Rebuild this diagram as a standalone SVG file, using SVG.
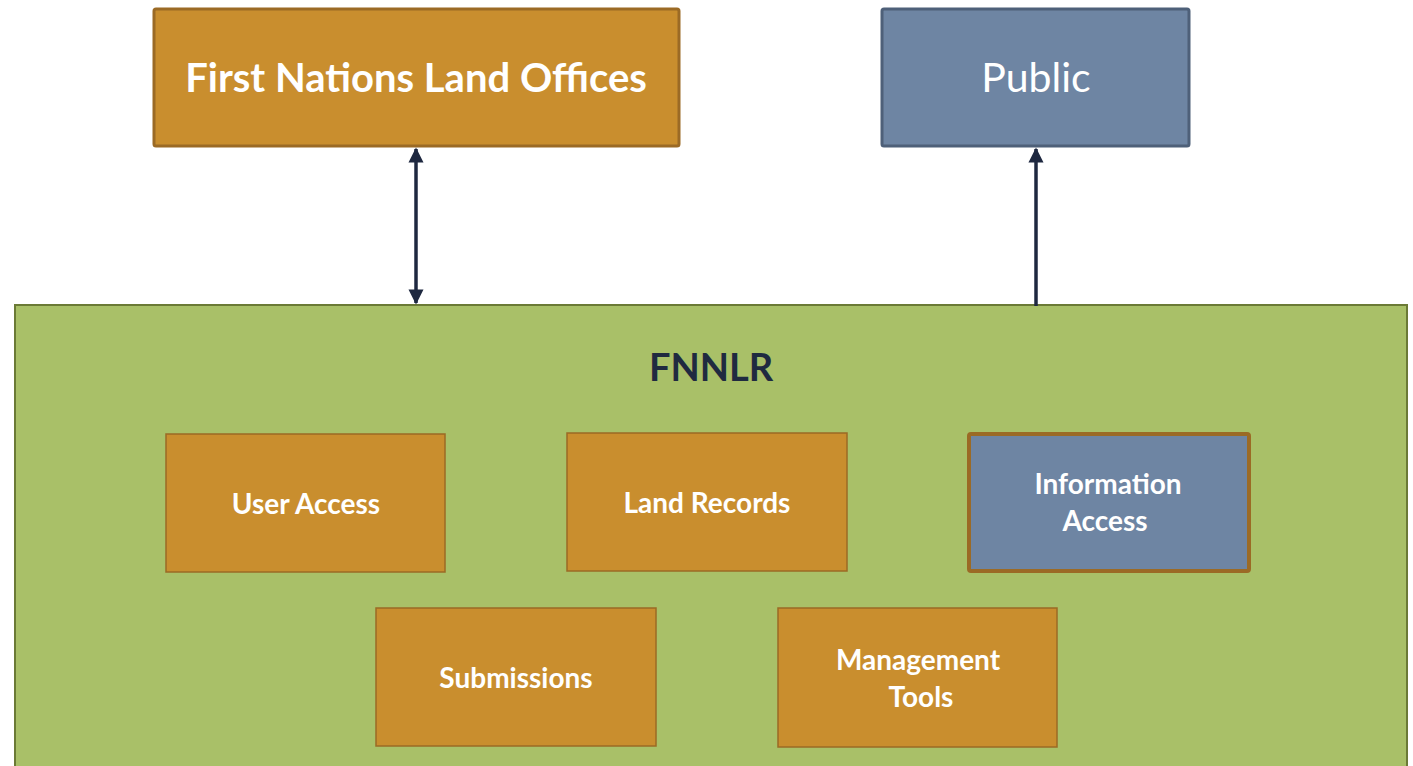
<svg xmlns="http://www.w3.org/2000/svg" width="1413" height="766" viewBox="0 0 1413 766">
<style>
.orange{fill:#c98e2e;stroke:#9b6a25;stroke-width:1.5}
.blue{fill:#6e85a3;stroke:#4e6079;stroke-width:3}
.lbl{font-family:Lato,"Open Sans",sans-serif;font-weight:bold;fill:#ffffff;text-anchor:middle}
.conn{stroke:#1e2840;stroke-width:3.5;fill:none}
</style>
<defs>
<marker id="ah" viewBox="0 0 10 10" refX="9" refY="5" markerWidth="4.3" markerHeight="4.3" orient="auto-start-reverse" markerUnits="strokeWidth">
<path d="M0,0 L10,5 L0,10 z" fill="#1e2840"/>
</marker>
</defs>
<g id="fnlo">
<rect x="154" y="9" width="525" height="137" fill="#c98e2e" stroke="#9b6a25" stroke-width="3" rx="2"/>
<text x="416" y="92" class="lbl" font-size="40">First Nations Land Offices</text>
</g>
<g id="public">
<rect x="882" y="9" width="307" height="137" class="blue" rx="2"/>
<text x="1036" y="92" font-family="Lato,'Open Sans',sans-serif" font-size="41" fill="#ffffff" text-anchor="middle">Public</text>
</g>
<g id="fnnlr">
<rect x="15" y="305" width="1392" height="470" fill="#a9c068" stroke="#6b7a36" stroke-width="2"/>
<text x="711" y="381" font-family="Lato,'Open Sans',sans-serif" font-weight="bold" font-size="38" fill="#1f2a40" text-anchor="middle">FNNLR</text>
</g>
<g id="user-access">
<rect x="166" y="434" width="279" height="138" class="orange"/>
<text x="306" y="514" class="lbl" font-size="28">User Access</text>
</g>
<g id="land-records">
<rect x="567" y="433" width="280" height="138" class="orange"/>
<text x="707" y="513" class="lbl" font-size="28">Land Records</text>
</g>
<g id="information-access">
<rect x="969" y="434" width="280" height="137" fill="#6e85a3" stroke="#9b6a25" stroke-width="4" rx="2"/>
<text x="1108" y="494" class="lbl" font-size="28">Information</text>
<text x="1105" y="531" class="lbl" font-size="28">Access</text>
</g>
<g id="submissions">
<rect x="376" y="608" width="280" height="138" class="orange"/>
<text x="516" y="688" class="lbl" font-size="28">Submissions</text>
</g>
<g id="management-tools">
<rect x="778" y="608" width="279" height="139" class="orange"/>
<text x="918" y="670" class="lbl" font-size="28">Management</text>
<text x="921" y="707" class="lbl" font-size="28">Tools</text>
</g>
<g id="connectors">
<line x1="416" y1="149" x2="416" y2="303" class="conn" marker-start="url(#ah)" marker-end="url(#ah)"/>
<line x1="1036" y1="306" x2="1036" y2="149" class="conn" marker-end="url(#ah)"/>
</g>
</svg>
